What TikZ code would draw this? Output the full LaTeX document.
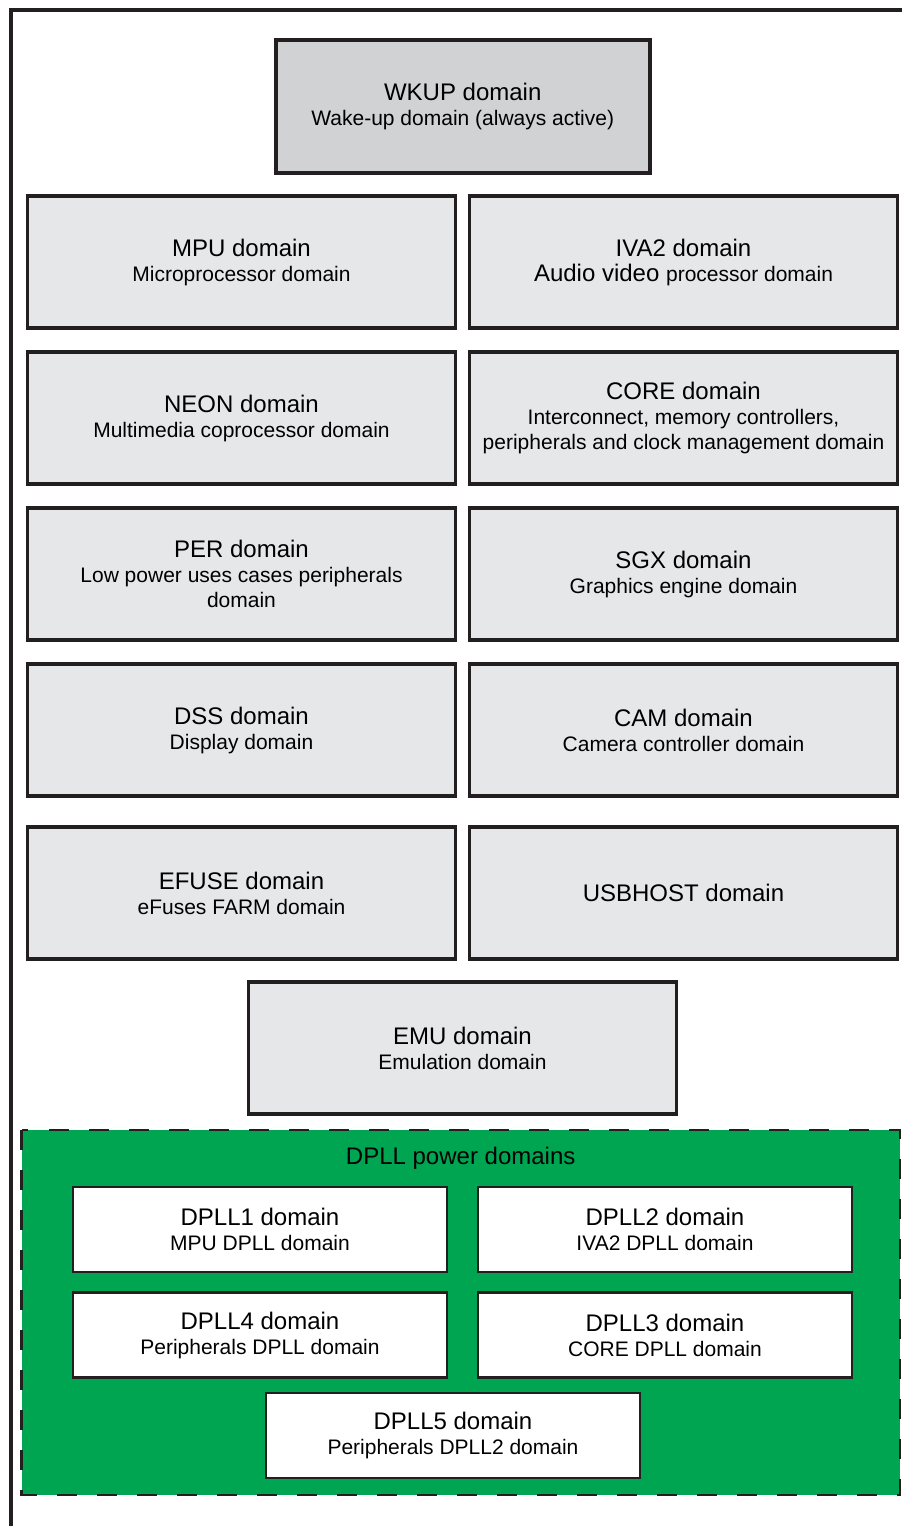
\documentclass[tikz,border=0pt]{standalone}
\usepackage{fontspec}
\setmainfont{Liberation Sans}
\usepackage{xcolor}
\usetikzlibrary{positioning}
\definecolor{linecol}{RGB}{35,31,32}
\definecolor{boxgray}{RGB}{230,231,232}
\definecolor{wkgray}{RGB}{209,210,212}
\definecolor{dpllgreen}{RGB}{0,165,81}
\newcommand{\subf}{\fontsize{21}{25}\selectfont}
\tikzset{
  dombox/.style={draw=linecol,line width=3.5pt,fill=boxgray,align=center,inner sep=0pt,minimum width=428pt,minimum height=132pt,font=\fontsize{24}{25}\selectfont},
  wkbox/.style={dombox,fill=wkgray,minimum width=374pt,minimum height=133pt},
  dpllbox/.style={draw=linecol,line width=2.6pt,fill=white,align=center,inner sep=0pt,minimum width=374pt,minimum height=85pt,font=\fontsize{24}{25}\selectfont},
  region/.style={draw=linecol,line width=2.6pt,fill=dpllgreen,dash pattern=on 20pt off 20pt},
  frame/.style={draw=linecol,line width=3.5pt}
}
\begin{document}
\begin{tikzpicture}[x=1pt,y=-1pt]
\useasboundingbox(0,0)rectangle(902,1526);
\clip(0,0)rectangle(902,1526);
\draw[frame](11,10)rectangle(940,1560);
\node[wkbox](wkup)at(462.75,106.5){WKUP domain\\{\subf Wake-up domain (always active)}};
\node[dombox](mpu)at(241.5,262){MPU domain\\{\subf Microprocessor domain}};
\node[dombox](iva)at(683.5,262){IVA2 domain\\Audio video {\subf processor domain}};
\node[dombox](neon)at(241.5,418){NEON domain\\{\subf Multimedia coprocessor domain}};
\node[dombox](core)at(683.5,418){CORE domain\\{\subf Interconnect, memory controllers,}\\{\subf peripherals and clock management domain}};
\node[dombox](per)at(241.5,574){PER domain\\{\subf Low power uses cases peripherals}\\{\subf domain}};
\node[dombox](sgx)at(683.5,574){SGX domain\\{\subf Graphics engine domain}};
\node[dombox](dss)at(241.5,730){DSS domain\\{\subf Display domain}};
\node[dombox](cam)at(683.5,730){CAM domain\\{\subf Camera controller domain}};
\node[dombox](efuse)at(241.5,893){EFUSE domain\\{\subf eFuses FARM domain}};
\node[dombox](usbhost)at(683.5,893){USBHOST domain};
\node[dombox](emu)at(462.5,1048){EMU domain\\{\subf Emulation domain}};
\path[region](21.5,1130)rectangle(900,1495);
\node[font=\fontsize{24}{25}\selectfont,inner sep=0pt](dpll)at(460.7,1158){DPLL power domains};
\node[dpllbox](dpllone)at(260,1229.5){DPLL1 domain\\{\subf MPU DPLL domain}};
\node[dpllbox](dplltwo)at(665,1229.5){DPLL2 domain\\{\subf IVA2 DPLL domain}};
\node[dpllbox](dpllfour)at(260,1335){DPLL4 domain\\{\subf Peripherals DPLL domain}};
\node[dpllbox](dpllthree)at(665,1335){DPLL3 domain\\{\subf CORE DPLL domain}};
\node[dpllbox](dpllfive)at(453,1435.5){DPLL5 domain\\{\subf Peripherals DPLL2 domain}};
\end{tikzpicture}
\end{document}
